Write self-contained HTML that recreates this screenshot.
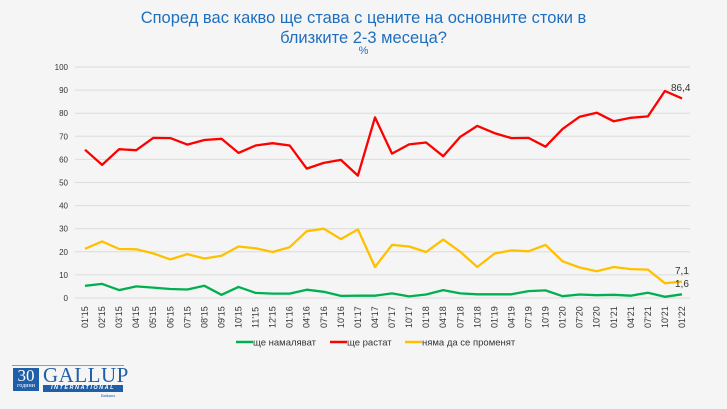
<!DOCTYPE html>
<html><head><meta charset="utf-8"><style>
html,body{margin:0;padding:0;background:#f5f5f5;}
body{width:727px;height:409px;overflow:hidden;position:relative;font-family:"Liberation Sans","DejaVu Sans",sans-serif;}
.t{position:absolute;left:0;width:727px;text-align:center;color:#1f6fbf;}
</style></head><body>
<div class="t" style="top:8px;font-size:16.5px;line-height:20px;">Според вас какво ще става с цените на основните стоки в<br>близките 2-3 месеца?</div>
<div class="t" style="top:45px;font-size:11px;">%</div>
<svg id="c" width="727" height="409" style="position:absolute;left:0;top:0" xmlns="http://www.w3.org/2000/svg"></svg>
<div style="position:absolute;left:12px;top:365px;width:112px;height:1px;background:#999"></div>
<div style="position:absolute;left:13px;top:368px;width:26px;height:23px;background:#1f5fa8;color:#fff;text-align:center;font-family:'Liberation Serif',serif;">
<div style="font-size:17px;line-height:15px;">30</div><div style="font-size:6px;line-height:7px;">години</div></div>
<div style="position:absolute;left:43px;top:366px;font-family:'Liberation Serif',serif;font-size:21px;color:#1f5fa8;line-height:19px;letter-spacing:0.5px;">GALLUP</div>
<div style="position:absolute;left:43px;top:385px;width:80px;height:7px;background:#1f5fa8;color:#fff;font-size:5.5px;line-height:7px;text-align:center;letter-spacing:1.5px;font-style:italic;font-weight:bold;">INTERNATIONAL</div>
<div style="position:absolute;left:101px;top:393px;font-size:4px;color:#1f5fa8;">Balkans</div>
<script>
var labs="01'15,02'15,03'15,04'15,05'15,06'15,07'15,08'15,09'15,10'15,11'15,12'15,01'16,04'16,07'16,10'16,01'17,04'17,07'17,10'17,01'18,04'18,07'18,10'18,01'19,04'19,07'19,10'19,01'20,07'20,10'20,01'21,04'21,07'21,10'21,01'22".split(",");
var R=[64.2,57.6,64.4,64,69.3,69.2,66.4,68.4,68.9,62.8,66,67,66,56,58.5,59.8,53,78.2,62.5,66.5,67.3,61.4,69.8,74.5,71.4,69.2,69.3,65.5,73.2,78.5,80.2,76.5,78,78.6,89.6,86.4];
var Y=[21.3,24.5,21.2,21.1,19.3,16.7,19,17.1,18.3,22.3,21.5,19.9,22,28.9,30,25.5,29.7,13.4,23,22.3,19.9,25.3,20,13.4,19.2,20.6,20.2,23,15.9,13.2,11.6,13.4,12.5,12.3,6.4,7.1];
var G=[5.3,6.1,3.4,5,4.5,3.9,3.7,5.3,1.4,4.8,2.2,1.9,1.9,3.6,2.7,0.9,1,1,2,0.7,1.5,3.4,2,1.6,1.6,1.6,3,3.3,0.8,1.5,1.2,1.4,1,2.3,0.5,1.6];
var x0=85,dx=(682-85)/35,y0=298,k=2.31,s="";
function X(i){return x0+i*dx}function Yv(v){return y0-v*k}
for(var v=0;v<=100;v+=10){var y=Yv(v);s+='<line x1="75" x2="690" y1="'+y+'" y2="'+y+'" stroke="#dcdcdc" stroke-width="1"/>';
s+='<text x="68" y="'+(y+3)+'" font-size="8" text-anchor="end" fill="#333">'+v+'</text>';}
labs.forEach(function(l,i){var x=X(i)+3;s+='<text transform="translate('+x+',328) rotate(-90)" font-size="9" fill="#333">'+l+'</text>';});
function pl(d,c){return '<polyline fill="none" stroke="'+c+'" stroke-width="2.3" stroke-linejoin="round" points="'+d.map(function(v,i){return X(i).toFixed(1)+','+Yv(v).toFixed(1)}).join(' ')+'"/>';}
s+=pl(Y,"#ffc000")+pl(R,"#ff0000")+pl(G,"#00b050");
s+='<text x="671" y="91" font-size="10" fill="#333">86,4</text><text x="675" y="274" font-size="10" fill="#333">7,1</text><text x="675" y="287" font-size="10" fill="#333">1,6</text>';
var lg=[[236,"#00b050","ще намаляват"],[330,"#ff0000","ще растат"],[405,"#ffc000","няма да се променят"]];
lg.forEach(function(a){s+='<line x1="'+a[0]+'" x2="'+(a[0]+17)+'" y1="342" y2="342" stroke="'+a[1]+'" stroke-width="2.5"/><text x="'+(a[0]+17)+'" y="345.5" font-size="9.5" fill="#333">'+a[2]+'</text>';});
document.getElementById("c").innerHTML=s;
</script>
</body></html>
